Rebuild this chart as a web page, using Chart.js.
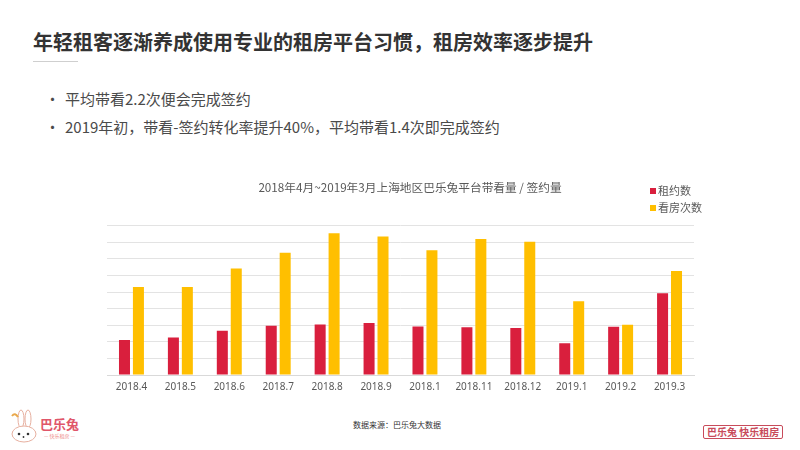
<!DOCTYPE html>
<html>
<head>
<meta charset="utf-8">
<script src="https://cdn.jsdelivr.net/npm/chart.js@4"></script>
<style>
  body { margin: 0; background: #fff; font-family: "Noto Sans CJK SC", "Noto Sans", sans-serif; }
  #page { position: relative; width: 800px; height: 450px; overflow: hidden; background: #fff; }
  .title { position: absolute; left: 33px; top: 27px; font-size: 20px; font-weight: bold; color: #333; white-space: nowrap; }
  .rule { position: absolute; left: 33px; top: 61px; width: 45px; height: 1px; background: #cfcfcf; }
  .bullet { position: absolute; left: 45px; font-size: 15px; color: #4a4a4a; white-space: nowrap; }
  .bullet span { display: inline-block; width: 20px; }
  #wrap { position: absolute; left: 100px; top: 170px; width: 620px; height: 233px; }
  .legend { position: absolute; left: 650px; font-size: 11px; color: #595959; white-space: nowrap; }
  .legend i { display: inline-block; width: 6px; height: 6px; margin-right: 2px; vertical-align: 1px; }
  .source { position: absolute; left: 353px; top: 419px; font-size: 8px; color: #333; }
  .logoL { position: absolute; left: 40px; top: 416px; font-size: 13px; font-weight: bold; color: #e0566a; line-height: 16px; }
  .logoL small { display: block; font-size: 5px; font-weight: normal; color: #e88; text-align: center; line-height: 8px; }
  .logoR { position: absolute; left: 703px; top: 425px; border: 1px solid #c84b5b; border-radius: 2px; padding: 0 3px; font-size: 10px; font-weight: bold; color: #c84b5b; line-height: 12px; white-space: nowrap; }
</style>
</head>
<body>
<div id="page">
  <div class="title">年轻租客逐渐养成使用专业的租房平台习惯，租房效率逐步提升</div>
  <div class="rule"></div>
  <div class="bullet" style="top:88px"><span>•</span>平均带看2.2次便会完成签约</div>
  <div class="bullet" style="top:116px"><span>•</span>2019年初，带看-签约转化率提升40%，平均带看1.4次即完成签约</div>

  <div id="wrap"><canvas id="chart" width="620" height="233"></canvas></div>

  <div class="legend" style="top:182px"><i style="background:#d91f3d"></i>租约数</div>
  <div class="legend" style="top:199px"><i style="background:#ffbf00"></i>看房次数</div>

  <div class="source">数据来源：巴乐兔大数据</div>
  <svg style="position:absolute;left:6px;top:408px" width="34" height="36" viewBox="0 0 34 36">
    <ellipse cx="15" cy="11" rx="3" ry="9" fill="#fff" stroke="#e7b0a0"/>
    <ellipse cx="22" cy="11" rx="3" ry="9" fill="#fff" stroke="#e7b0a0"/>
    <ellipse cx="18" cy="26" rx="12" ry="8" fill="#fff" stroke="#e7b0a0"/>
    <circle cx="13" cy="26" r="1.3" fill="#333"/>
    <circle cx="22" cy="26" r="1.3" fill="#333"/>
    <circle cx="17.5" cy="29" r="0.9" fill="#333"/>
    <path d="M6 8 q3 -4 6 1" stroke="#e9a84b" fill="none" stroke-width="2"/>
  </svg>
  <div class="logoL">巴乐兔<small>— 快乐租房 —</small></div>
  <div class="logoR">巴乐兔 快乐租房</div>
</div>

<script>
const months = ['2018.4', '2018.5', '2018.6', '2018.7', '2018.8', '2018.9', '2018.1', '2018.11', '2018.12', '2019.1', '2019.2', '2019.3'];
const leases = [211, 226, 266, 297, 305, 313, 293, 287, 283, 191, 291, 492];
const viewings = [530, 530, 642, 736, 854, 835, 752, 819, 803, 445, 303, 626];
const chartTitle = '2018年4月~2019年3月上海地区巴乐兔平台带看量 / 签约量';

const ctx = document.getElementById('chart').getContext('2d');
new Chart(ctx, {
  type: 'bar',
  data: {
    labels: months,
    datasets: [
      { label: '租约数', data: leases, backgroundColor: '#d91f3d' },
      { label: '看房次数', data: viewings, backgroundColor: '#ffbf00' }
    ]
  },
  options: {
    responsive: false,
    animation: false,
    devicePixelRatio: 1,
    categoryPercentage: 0.57,
    barPercentage: 0.79,
    layout: { padding: { left: 0, right: 0, top: 0, bottom: 3 } },
    plugins: {
      legend: { display: false },
      tooltip: { enabled: false },
      title: {
        display: true,
        text: chartTitle,
        color: '#595959',
        font: { size: 11.7, family: '"Noto Sans CJK SC", sans-serif', weight: 'normal' },
        padding: { top: 11, bottom: 30.6 }
      }
    },
    scales: {
      x: {
        grid: { display: false, drawTicks: false },
        border: { color: '#d9d9d9' },
        ticks: { color: '#595959', padding: 6.5, font: { size: 10, family: '"Noto Sans", sans-serif' } }
      },
      y: {
        min: 0,
        max: 900,
        grid: { color: '#e3e3e3', drawTicks: false },
        border: { display: false },
        ticks: { display: false, stepSize: 100 },
        afterFit: (s) => { s.width = 7; }
      },
      // empty right-hand axis, only to leave room for the legend column
      yR: {
        position: 'right',
        grid: { display: false, drawTicks: false },
        border: { display: false },
        ticks: { display: false },
        afterFit: (s) => { s.width = 26; }
      }
    }
  }
});
</script>
</body>
</html>
